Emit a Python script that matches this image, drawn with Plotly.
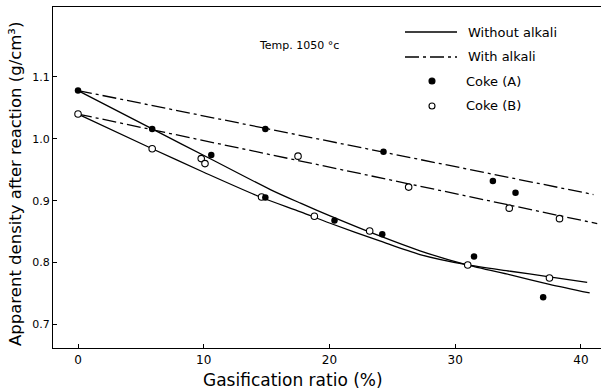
import plotly.graph_objects as go

# Measured points: gasification ratio (%) and apparent density (g/cm3)
gas_a = [0, 5.9, 10.6, 14.9, 14.9, 20.4, 24.2, 24.3, 31.5, 33.0, 34.8, 37.0]
dens_a = [1.078, 1.016, 0.974, 1.016, 0.905, 0.868, 0.846, 0.979, 0.810, 0.932, 0.913, 0.744]

gas_b = [0, 5.9, 9.8, 10.1, 14.6, 17.5, 18.8, 23.2, 26.3, 31.0, 34.3, 37.5, 38.3]
dens_b = [1.040, 0.984, 0.968, 0.960, 0.906, 0.972, 0.875, 0.851, 0.922, 0.796, 0.888, 0.775, 0.871]

# Fitted trends without alkali (smooth curves)
fit_a_plain_x = [0, 5.9, 10.6, 15.3, 17.7, 20, 24, 27.2, 30.8, 34.4, 37.5, 40.7]
fit_a_plain_y = [1.078, 1.016, 0.967, 0.918, 0.896, 0.876, 0.843, 0.819, 0.797, 0.780, 0.765, 0.751]
fit_b_plain_x = [0, 5.9, 10, 14.5, 17.7, 20, 24, 27.2, 30.8, 34.4, 37.5, 40.5]
fit_b_plain_y = [1.040, 0.984, 0.946, 0.906, 0.882, 0.864, 0.835, 0.813, 0.797, 0.786, 0.777, 0.768]

# Fitted trends with alkali (straight lines)
fit_a_alk_x = [0, 41.0]
fit_a_alk_y = [1.078, 0.910]
fit_b_alk_x = [0, 41.3]
fit_b_alk_y = [1.040, 0.863]

x_ticks = [0, 10, 20, 30, 40]
y_ticks = [0.7, 0.8, 0.9, 1.0, 1.1]
y_tick_text = ["0.7", "0.8", "0.9", "1.0", "1.1"]

FONT = "DejaVu Sans"
DASHDOT = "14px,4px,3px,4px"
W, H = 603, 392
ML, MR, MT, MB = 53, 2, 7, 44


def px(xp):
    return (xp - ML) / (W - ML - MR)


def py(yp):
    return (H - MB - yp) / (H - MT - MB)


fig = go.Figure()

for fx, fy in [(fit_a_plain_x, fit_a_plain_y), (fit_b_plain_x, fit_b_plain_y)]:
    fig.add_trace(go.Scatter(x=fx, y=fy, mode="lines",
                             line=dict(color="black", width=1.3, shape="spline", smoothing=0.8),
                             showlegend=False, hoverinfo="skip"))
for fx, fy in [(fit_a_alk_x, fit_a_alk_y), (fit_b_alk_x, fit_b_alk_y)]:
    fig.add_trace(go.Scatter(x=fx, y=fy, mode="lines",
                             line=dict(color="black", width=1.3, dash=DASHDOT),
                             showlegend=False, hoverinfo="skip"))

fig.add_trace(go.Scatter(x=gas_b, y=dens_b, mode="markers", name="Coke (B)",
                         marker=dict(symbol="circle", size=6.5, color="white",
                                     line=dict(color="black", width=1.1)),
                         showlegend=False))
fig.add_trace(go.Scatter(x=gas_a, y=dens_a, mode="markers", name="Coke (A)",
                         marker=dict(symbol="circle", size=6.5, color="black",
                                     line=dict(color="black", width=0)),
                         showlegend=False))

shapes = []
annotations = []

# Key: line samples and symbols with their labels
key_rows = [
    ("line", "solid", "Without alkali", 32),
    ("line", DASHDOT, "With alkali", 57),
]
for kind, dash, label, yp in key_rows:
    shapes.append(dict(type="line", xref="paper", yref="paper",
                       x0=px(405), x1=px(457), y0=py(yp), y1=py(yp),
                       line=dict(color="black", width=1.3, dash=dash)))
    annotations.append(dict(text=label, xref="paper", yref="paper", x=px(466), y=py(yp),
                            xanchor="left", yanchor="middle", showarrow=False,
                            font=dict(family=FONT, size=13, color="black")))

for label, yp, fill in [("Coke (A)", 81, "black"), ("Coke (B)", 106, "white")]:
    shapes.append(dict(type="circle", xref="paper", yref="paper",
                       xsizemode="pixel", ysizemode="pixel",
                       xanchor=px(432), yanchor=py(yp),
                       x0=-3, x1=3, y0=-3, y1=3,
                       fillcolor=fill, line=dict(color="black", width=1.1)))
    annotations.append(dict(text=label, xref="paper", yref="paper", x=px(464), y=py(yp),
                            xanchor="left", yanchor="middle", showarrow=False,
                            font=dict(family=FONT, size=13, color="black")))

annotations.append(dict(text="Temp. 1050 °c", xref="paper", yref="paper",
                        x=px(257), y=py(45), xanchor="left", yanchor="middle",
                        showarrow=False, font=dict(family=FONT, size=11, color="black")))

# Axis titles
annotations.append(dict(text="Gasification ratio (%)", xref="paper", yref="paper",
                        x=px(293), y=py(380), xanchor="center", yanchor="middle",
                        showarrow=False, font=dict(family=FONT, size=17, color="black")))
annotations.append(dict(text="Apparent density after reaction (g/cm³)", xref="paper", yref="paper",
                        x=px(15), y=py(184), xanchor="center", yanchor="middle",
                        textangle=-90, showarrow=False,
                        font=dict(family=FONT, size=16.5, color="black")))

fig.update_layout(
    width=W, height=H,
    margin=dict(l=ML, r=MR, t=MT, b=MB),
    paper_bgcolor="white", plot_bgcolor="white",
    font=dict(family=FONT, size=11, color="black"),
    shapes=shapes, annotations=annotations,
    showlegend=False,
    xaxis=dict(range=[-1.99, 41.6], tickvals=x_ticks, ticks="inside", ticklen=4,
               tickcolor="black", showline=True, linecolor="black", linewidth=1.3,
               mirror=True, showgrid=False, zeroline=False,
               tickfont=dict(family=FONT, size=12)),
    yaxis=dict(range=[0.662, 1.213], tickvals=y_ticks, ticktext=y_tick_text,
               ticks="inside", ticklen=4, tickcolor="black", showline=True,
               linecolor="black", linewidth=1.3, showgrid=False, zeroline=False,
               tickfont=dict(family=FONT, size=11)),
)

fig.write_html("out.html")
